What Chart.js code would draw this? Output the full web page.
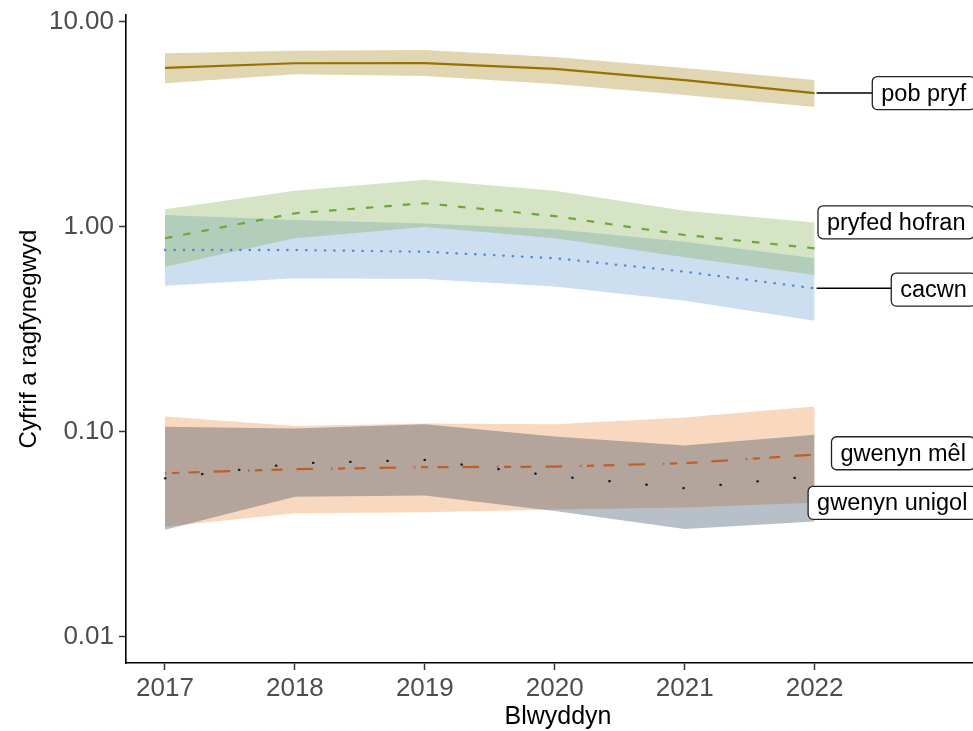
<!DOCTYPE html>
<html>
<head>
<meta charset="utf-8">
<script src="https://cdn.jsdelivr.net/npm/chart.js@4.4.1/dist/chart.umd.min.js"></script>
<style>
  html, body { margin: 0; padding: 0; background: #fff; overflow: hidden; width: 973px; height: 731px; }
  #wrap { position: relative; width: 990px; height: 731px; }
</style>
</head>
<body>
<div id="wrap"><canvas id="c" width="990" height="731"></canvas></div>
<script>
// Years on the x axis
const years = [2017, 2018, 2019, 2020, 2021, 2022];

// Log-scale tick values and their printed labels
const yTickValues = [0.01, 0.1, 1, 10];
const yTickLabels = ['0.01', '0.10', '1.00', '10.00'];

// pob pryf (all insects)
const pobPryf      = [5.97, 6.29, 6.30, 5.90, 5.21, 4.50];
const pobPryfLower = [5.02, 5.56, 5.45, 4.98, 4.40, 3.85];
const pobPryfUpper = [7.03, 7.24, 7.30, 6.75, 5.97, 5.21];

// pryfed hofran (hoverflies)
const hofran      = [0.881, 1.166, 1.305, 1.130, 0.914, 0.787];
const hofranLower = [0.640, 0.880, 1.000, 0.880, 0.712, 0.583];
const hofranUpper = [1.220, 1.500, 1.700, 1.500, 1.200, 1.050];

// cacwn (bumblebees)
const cacwn      = [0.772, 0.772, 0.757, 0.704, 0.605, 0.502];
const cacwnLower = [0.517, 0.562, 0.557, 0.512, 0.437, 0.349];
const cacwnUpper = [1.144, 1.080, 1.040, 0.975, 0.848, 0.704];

// gwenyn mêl (honey bees)
const mel      = [0.0629, 0.0658, 0.0673, 0.0677, 0.0704, 0.0775];
const melLower = [0.0345, 0.0401, 0.0406, 0.0418, 0.0428, 0.0452];
const melUpper = [0.1190, 0.1070, 0.1100, 0.1090, 0.1176, 0.1330];

// gwenyn unigol (solitary bees)
const unigol      = [0.0594, 0.0702, 0.0730, 0.0609, 0.0531, 0.0610];
const unigolLower = [0.0333, 0.0483, 0.0489, 0.0412, 0.0336, 0.0366];
const unigolUpper = [0.1060, 0.1040, 0.1090, 0.0950, 0.0858, 0.0968];

const FONT = "'Liberation Sans', Arial, Helvetica, sans-serif";

// Series in drawing order (first one sits at the bottom)
const series = [
  { name: 'cacwn', mid: cacwn, lo: cacwnLower, hi: cacwnUpper,
    line: 'rgb(78,138,208)', fill: 'rgba(85,148,205,0.3)', dash: [0.5, 8.9], cap: 'round', width: 2.3 },
  { name: 'gwenyn mêl', mid: mel, lo: melLower, hi: melUpper,
    line: 'rgb(192,94,40)', fill: 'rgba(235,125,45,0.3)', dash: [1.5, 5.5, 7.3, 9.3, 11, 14, 16.7, 17.7], cap: 'butt', width: 2.2 },
  { name: 'gwenyn unigol', mid: unigol, lo: unigolLower, hi: unigolUpper,
    line: 'rgb(20,30,45)', fill: 'rgba(15,45,72,0.3)', dash: [0.5, 36.7], cap: 'round', width: 2.3 },
  { name: 'pob pryf', mid: pobPryf, lo: pobPryfLower, hi: pobPryfUpper,
    line: 'rgb(150,114,0)', fill: 'rgba(155,118,0,0.3)', dash: [], cap: 'butt', width: 2.2 },
  { name: 'pryfed hofran', mid: hofran, lo: hofranLower, hi: hofranUpper,
    line: 'rgb(108,168,55)', fill: 'rgba(115,165,58,0.3)', dash: [7.5, 11], cap: 'butt', width: 2.2 }
];

// End-of-line labels: box left edge (year) and box centre (value)
const labelDefs = [
  { text: 'pob pryf',      series: 'pob pryf',      left: 2022.444, centre: 4.50,   connector: true },
  { text: 'pryfed hofran', series: 'pryfed hofran', left: 2022.026, centre: 1.054,  connector: false },
  { text: 'cacwn',         series: 'cacwn',         left: 2022.590, centre: 0.495,  connector: true },
  { text: 'gwenyn mêl',    series: 'gwenyn mêl',    left: 2022.130, centre: 0.0787, connector: false },
  { text: 'gwenyn unigol', series: 'gwenyn unigol', left: 2021.950, centre: 0.0451, connector: false }
];

const pts = arr => years.map((yr, i) => ({ x: yr, y: arr[i] }));

const datasets = [];
const n = series.length;
series.forEach((s, k) => {
  const bandOrder = 100 - k;
  const hiIndex = datasets.length;
  datasets.push({
    label: s.name + ' upper', data: pts(s.hi), fill: hiIndex + 1,
    backgroundColor: s.fill, borderColor: 'rgba(0,0,0,0)', borderWidth: 0,
    pointRadius: 0, order: bandOrder
  });
  datasets.push({
    label: s.name + ' lower', data: pts(s.lo), fill: false,
    borderColor: 'rgba(0,0,0,0)', borderWidth: 0, pointRadius: 0, order: bandOrder
  });
});
series.forEach((s, k) => {
  datasets.push({
    label: s.name, data: pts(s.mid), fill: false,
    borderColor: s.line, borderWidth: s.width, borderDash: s.dash,
    borderCapStyle: s.cap, borderJoinStyle: 'round',
    pointRadius: 0, order: n - k
  });
});

function roundRect(ctx, x, y, w, h, r) {
  ctx.beginPath();
  ctx.moveTo(x + r, y);
  ctx.lineTo(x + w - r, y);
  ctx.arcTo(x + w, y, x + w, y + r, r);
  ctx.lineTo(x + w, y + h - r);
  ctx.arcTo(x + w, y + h, x + w - r, y + h, r);
  ctx.lineTo(x + r, y + h);
  ctx.arcTo(x, y + h, x, y + h - r, r);
  ctx.lineTo(x, y + r);
  ctx.arcTo(x, y, x + r, y, r);
  ctx.closePath();
}

const endLabels = {
  id: 'endLabels',
  afterDraw(chart) {
    const { ctx, scales: { x, y } } = chart;
    ctx.save();
    ctx.font = '23.5px ' + FONT;
    const padX = 9, boxH = 33;
    labelDefs.forEach(l => {
      const s = series.find(q => q.name === l.series);
      const endX = x.getPixelForValue(years[years.length - 1]);
      const endY = y.getPixelForValue(s.mid[s.mid.length - 1]);
      const left = x.getPixelForValue(l.left);
      const cy = y.getPixelForValue(l.centre);
      const w = ctx.measureText(l.text).width + 2 * padX;
      if (l.connector) {
        ctx.strokeStyle = '#000';
        ctx.lineWidth = 1.6;
        ctx.setLineDash([]);
        ctx.beginPath();
        ctx.moveTo(endX + 2, endY);
        ctx.lineTo(left, Math.min(Math.max(endY, cy - boxH / 2), cy + boxH / 2));
        ctx.stroke();
      }
      roundRect(ctx, left, cy - boxH / 2, w, boxH, 5);
      ctx.fillStyle = '#fff';
      ctx.fill();
      ctx.strokeStyle = '#222';
      ctx.lineWidth = 1.3;
      ctx.stroke();
      ctx.fillStyle = '#000';
      ctx.textBaseline = 'middle';
      ctx.textAlign = 'left';
      ctx.fillText(l.text, left + padX, cy + 1);
    });
    ctx.restore();
  }
};

new Chart(document.getElementById('c'), {
  type: 'line',
  data: { datasets },
  options: {
    responsive: false,
    animation: false,
    devicePixelRatio: 1,
    layout: { padding: { top: 15, left: 0, right: 0, bottom: 0 } },
    elements: { line: { tension: 0 }, point: { radius: 0 } },
    plugins: {
      legend: { display: false },
      tooltip: { enabled: false },
      filler: { propagate: false }
    },
    scales: {
      x: {
        type: 'linear',
        min: 2016.7,
        max: 2023.35,
        afterBuildTicks: s => { s.ticks = years.map(v => ({ value: v })); },
        afterFit: s => { s.height = 68; s.paddingLeft = 0; s.paddingRight = 0; },
        ticks: {
          callback: v => String(v),
          color: '#4d4d4d',
          font: { family: FONT, size: 26 },
          padding: 3,
          maxRotation: 0,
          autoSkip: false
        },
        grid: { drawOnChartArea: false, drawTicks: true, tickLength: 7, tickColor: '#333', tickWidth: 1.5 },
        border: { display: true, color: '#000', width: 1.6 },
        title: {
          display: true, text: 'Blwyddyn', color: '#000',
          font: { family: FONT, size: 25 },
          padding: { top: 0, bottom: -1 }
        }
      },
      y: {
        type: 'logarithmic',
        min: 0.00746,
        max: 10.817,
        afterBuildTicks: s => { s.ticks = yTickValues.map(v => ({ value: v })); },
        afterFit: s => { s.width = 126; s.paddingTop = 0; s.paddingBottom = 0; },
        ticks: {
          callback: v => {
            const i = yTickValues.findIndex(t => Math.abs(t - v) < t * 1e-6);
            return i >= 0 ? yTickLabels[i] : '';
          },
          color: '#4d4d4d',
          font: { family: FONT, size: 26 },
          padding: 5,
          autoSkip: false
        },
        grid: { drawOnChartArea: false, drawTicks: true, tickLength: 7, tickColor: '#333', tickWidth: 1.5 },
        border: { display: true, color: '#000', width: 1.6 },
        title: {
          display: true, text: 'Cyfrif a ragfynegwyd', color: '#000',
          font: { family: FONT, size: 24 },
          padding: { top: 14.6, bottom: 0 }
        }
      }
    }
  },
  plugins: [endLabels]
});
</script>
</body>
</html>
